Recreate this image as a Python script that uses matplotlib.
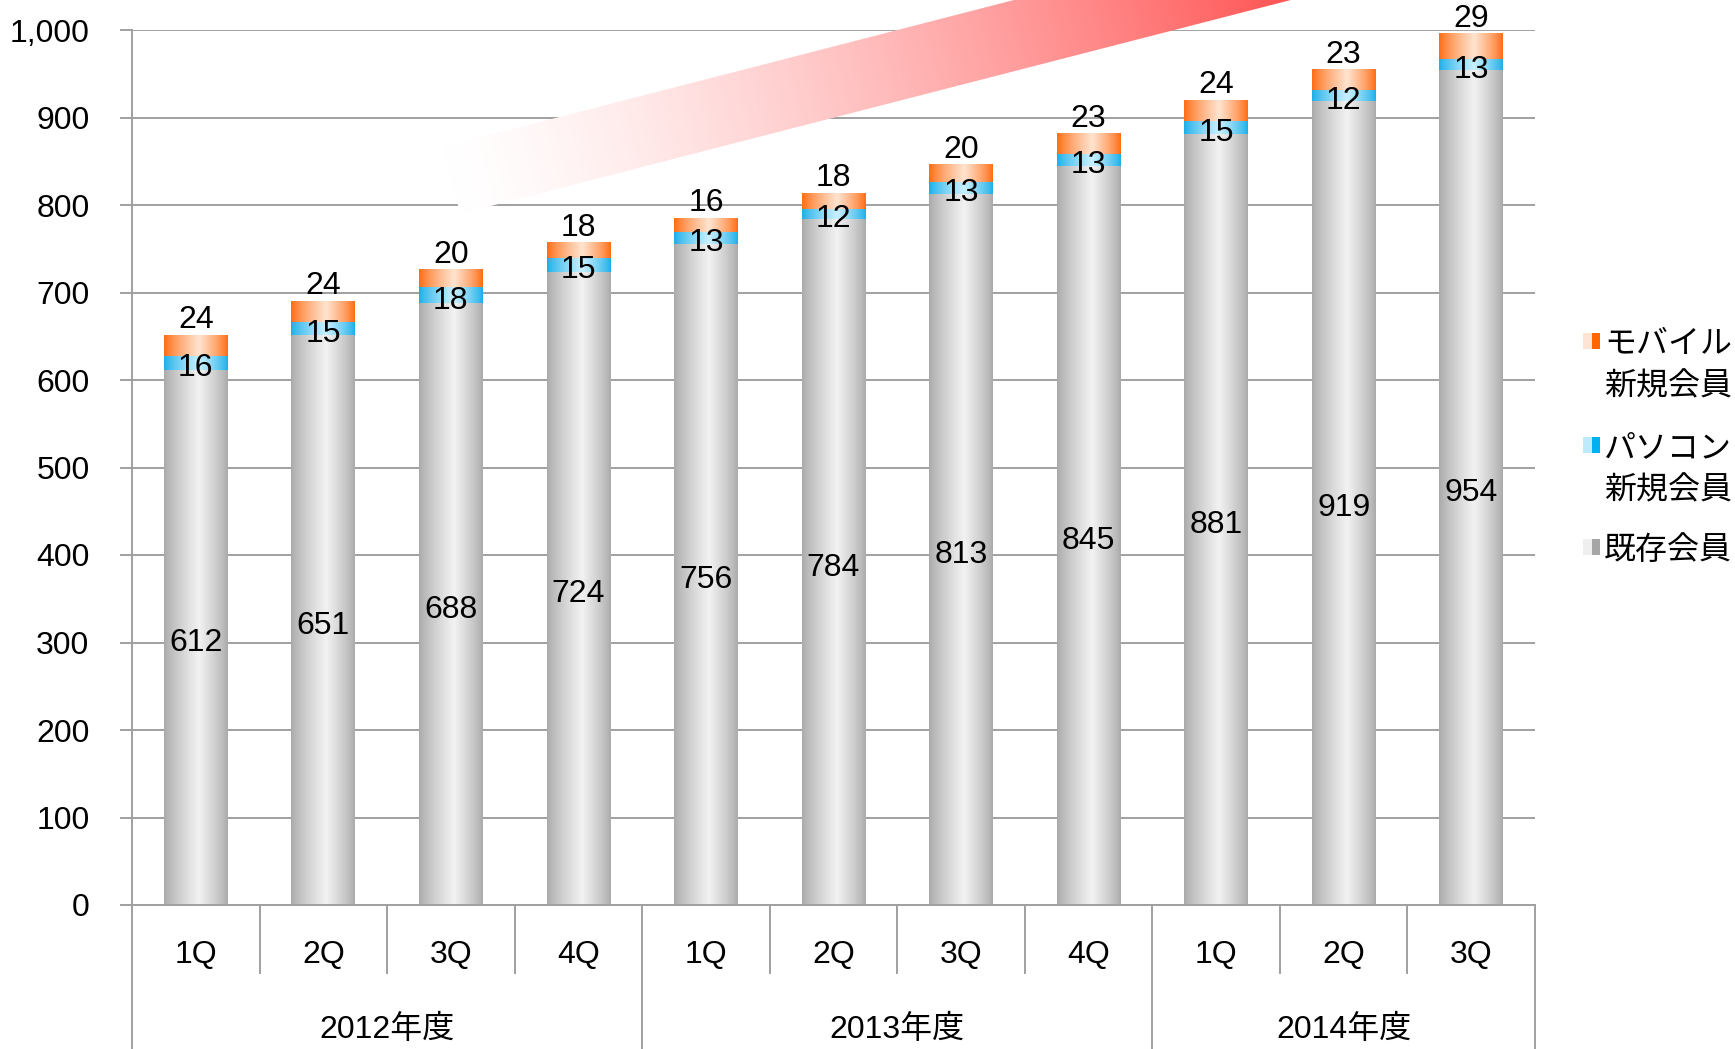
import numpy as np
import matplotlib
matplotlib.use('Agg')
import matplotlib.pyplot as plt
import matplotlib.colors as mcolors
from matplotlib.patches import Polygon, Rectangle
from matplotlib.ticker import FuncFormatter

plt.rcParams['font.family'] = ['Liberation Sans', 'Noto Sans CJK JP', 'DejaVu Sans']

#%% Datos
quarters = ['1Q', '2Q', '3Q', '4Q', '1Q', '2Q', '3Q', '4Q', '1Q', '2Q', '3Q']
years = ['2012年度', '2013年度', '2014年度']
year_sizes = [4, 4, 3]
existing = [612, 651, 688, 724, 756, 784, 813, 845, 881, 919, 954]
pc_new = [16, 15, 18, 15, 13, 12, 13, 13, 15, 12, 13]
mobile_new = [24, 24, 20, 18, 16, 18, 20, 23, 24, 23, 29]
legend_labels = ['モバイル\n新規会員', 'パソコン\n新規会員', '既存会員']

W, H = 1735, 1049
GRID = '#a0a0a0'
FS = 23

#%% Figura
fig = plt.figure(figsize=(W / 100, H / 100), dpi=100)
ax = fig.add_axes([132 / W, 144 / H, 1403 / W, 875 / H])

x = np.arange(len(quarters))
existing = np.array(existing)
pc_new = np.array(pc_new)
mobile_new = np.array(mobile_new)


def bar_grad(edge, center, peak=0.55, n=200):
    u = np.linspace(0, 1, n)
    f = np.where(u < peak, u / peak, (1 - u) / (1 - peak)) ** 0.8
    e = np.array(mcolors.to_rgb(edge))
    c = np.array(mcolors.to_rgb(center))
    img = e[None, :] + (c - e)[None, :] * f[:, None]
    return img[None, :, :]


def fill_bars(bars, edge, center):
    g = bar_grad(edge, center)
    for p in bars:
        x0, y0, w, h = p.get_x(), p.get_y(), p.get_width(), p.get_height()
        ax.imshow(g, extent=[x0, x0 + w, y0, y0 + h], aspect='auto',
                  interpolation='bilinear', zorder=2)


b1 = ax.bar(x, existing, width=0.5, facecolor='none', edgecolor='none')
b2 = ax.bar(x, pc_new, bottom=existing, width=0.5, facecolor='none', edgecolor='none')
b3 = ax.bar(x, mobile_new, bottom=existing + pc_new, width=0.5, facecolor='none', edgecolor='none')
fill_bars(b1, '#a9a9a9', '#f2f2f2')
fill_bars(b2, '#1aaee8', '#c8f0ff')
fill_bars(b3, '#ff6a10', '#ffe4d0')

for i in x:
    ax.annotate(str(existing[i]), (i, existing[i] / 2), xytext=(0, -4), textcoords='offset points',
                ha='center', va='center', fontsize=FS, zorder=4)
    ax.annotate(str(pc_new[i]), (i, existing[i] + pc_new[i] / 2), xytext=(0, -4), textcoords='offset points',
                ha='center', va='center', fontsize=FS, zorder=4)
    top = existing[i] + pc_new[i] + mobile_new[i]
    ax.text(i, top, str(mobile_new[i]), ha='center', va='bottom', fontsize=FS, zorder=4)

ax.set_xlim(-0.5, len(quarters) - 0.5)
ax.set_ylim(0, 1000)
ax.set_yticks(range(0, 1001, 100))
ax.yaxis.set_major_formatter(FuncFormatter(lambda v, p: f'{int(v):,}'))
ax.tick_params(axis='y', direction='out', length=8.6, width=1.4, color=GRID, pad=22, labelsize=FS)
ax.set_xticks([])
ax.set_axisbelow(True)
ax.grid(axis='y', color=GRID, linewidth=1.4)
for s in ['top', 'right']:
    ax.spines[s].set_visible(False)
for s in ['left', 'bottom']:
    ax.spines[s].set_color(GRID)
    ax.spines[s].set_linewidth(1.4)

# eje de categorias de dos niveles
tr = ax.get_xaxis_transform()
for i, q in enumerate(quarters):
    ax.text(i, -0.0571, q, transform=tr, ha='center', va='center', fontsize=FS)
bounds = np.cumsum([0] + year_sizes) - 0.5
for k, yl in enumerate(years):
    ax.text((bounds[k] + bounds[k + 1]) / 2, -0.143, yl, transform=tr, ha='center', va='center', fontsize=FS)
for b in np.arange(0.5, len(quarters) - 0.5):
    if b not in bounds:
        ax.plot([b, b], [0, -0.0777], transform=tr, color=GRID, lw=1.4, clip_on=False)
for b in bounds:
    ax.plot([b, b], [0, -0.2], transform=tr, color=GRID, lw=1.4, clip_on=False)

#%% Flecha decorativa y leyenda
deco = fig.add_axes([0, 0, 1, 1])
deco.patch.set_alpha(0)
deco.axis('off')

p0 = np.array([443.0, 147.0])
d = np.array([571.0, -147.0])
d = d / np.linalg.norm(d)
nrm = np.array([abs(d[1]), abs(d[0])])
L, bw = 1300, 69
pts = [p0, p0 + L * d, p0 + L * d + bw * nrm, p0 + bw * nrm]
poly = Polygon(pts, closed=True, facecolor='none', edgecolor='none', transform=deco.transData)
deco.add_patch(poly)
X, Y = np.meshgrid(np.arange(0, W, 2) + 1, np.arange(0, H, 2) + 1)
s = (X - p0[0]) * d[0] + (Y - p0[1]) * d[1]
drop = 172 * np.clip(s / 860, 0, None) ** 1.4
gb = np.clip(255 - drop, 0, 255) / 255
img = np.dstack([np.ones_like(gb), gb, gb])
im = deco.imshow(img, extent=[0, W, H, 0], aspect='auto', interpolation='bilinear', zorder=1)
im.set_clip_path(poly)

leg_colors = [('#fde4d4', '#ff6600'), ('#beebfb', '#00b0f0'), ('#efefef', '#a6a6a6')]
leg_y = [341, 445, 547]
for (lc, dc), yy, lab in zip(leg_colors, leg_y, legend_labels):
    deco.add_patch(Rectangle((1583, yy - 8), 9, 16, facecolor=lc, edgecolor='none'))
    deco.add_patch(Rectangle((1592, yy - 8), 8, 16, facecolor=dc, edgecolor='none'))
    for j, line in enumerate(lab.split('\n')):
        deco.text(1604, yy + 3 + 42 * j, line, ha='left', va='center', fontsize=FS,
                  family=['Noto Sans CJK JP', 'DejaVu Sans'])

deco.set_xlim(0, W)
deco.set_ylim(H, 0)

fig.savefig('out.png', dpi=100)
